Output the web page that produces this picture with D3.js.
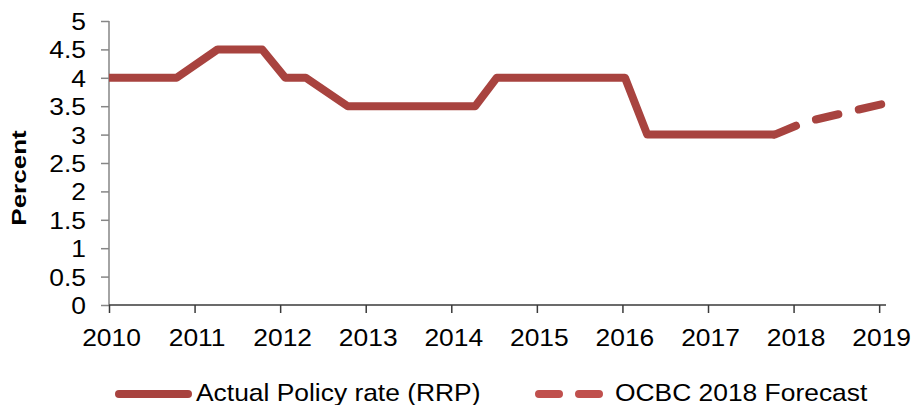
<!DOCTYPE html>
<html>
<head>
<meta charset="utf-8">
<script src="https://cdn.jsdelivr.net/npm/d3@7"></script>
<style>
  body { margin: 0; background: #fff; }
  svg { display: block; font-family: "Liberation Sans", Arial, sans-serif; }
</style>
</head>
<body>
<svg id="chart"></svg>
<script>
// Policy rate data (year as decimal)
const actualYears = [2010, 2010.79, 2011.27, 2011.79, 2012.06, 2012.30, 2012.79, 2014.28, 2014.53, 2016.03, 2016.29, 2017.78];
const actualRates = [4, 4, 4.5, 4.5, 4, 4, 3.5, 3.5, 4, 4, 3, 3];
const forecastYears = [2017.78, 2018.13, 2019.07];
const forecastRates = [3, 3.22, 3.55];
const xTicks = [2010, 2011, 2012, 2013, 2014, 2015, 2016, 2017, 2018, 2019];
const yTicks = [0, 0.5, 1, 1.5, 2, 2.5, 3, 3.5, 4, 4.5, 5];
const seriesNames = ["Actual Policy rate (RRP)", "OCBC 2018 Forecast"];

const width = 913, height = 405;
const lineColor = "#a8433f";
const stretch = 1.1; // text is drawn a bit wide in the original
const fontSize = 24;

const svg = d3.select("#chart")
    .attr("width", width)
    .attr("height", height);

// Scales
const x = d3.scaleLinear().domain([2010, 2019.08]).range([109, 886]);
const y = d3.scaleLinear().domain([0, 5]).range([305, 21]);

// Y axis
const yAxis = svg.append("g")
    .attr("transform", "translate(109,0)")
    .call(d3.axisLeft(y).tickValues(yTicks).tickSize(8).tickFormat(d3.format("")));
yAxis.select(".domain").attr("stroke", "#868686").attr("stroke-width", 1.5).attr("d", "M0," + y(5) + "V" + y(0));
yAxis.selectAll(".tick line").attr("stroke", "#868686").attr("stroke-width", 1.5);
yAxis.selectAll(".tick text")
    .attr("x", 0)
    .attr("transform", "translate(-23,0) scale(" + stretch + ",1)")
    .attr("dy", "0.35em")
    .attr("font-size", fontSize)
    .attr("font-family", "Liberation Sans, Arial, sans-serif")
    .attr("fill", "#000");

// X axis
const xAxis = svg.append("g")
    .attr("transform", "translate(0," + y(0) + ")")
    .call(d3.axisBottom(x).tickValues(xTicks).tickSize(8).tickFormat(d3.format("d")));
xAxis.select(".domain").attr("stroke", "#3a3a3a").attr("stroke-width", 1.5).attr("d", "M109,0H886");
xAxis.selectAll(".tick line").attr("stroke", "#3a3a3a").attr("stroke-width", 1.5);
xAxis.selectAll(".tick text")
    .attr("y", 0).attr("dy", null)
    .attr("transform", "translate(2,41) scale(" + stretch + ",1)")
    .attr("font-size", fontSize)
    .attr("font-family", "Liberation Sans, Arial, sans-serif")
    .attr("fill", "#000");

// Y axis title
svg.append("text")
    .attr("transform", "translate(26,178) rotate(-90) scale(1.3,1)")
    .attr("text-anchor", "middle")
    .attr("font-size", 20)
    .attr("font-weight", "bold")
    .text("Percent");

// Lines
const line = d3.line().x(d => x(d[0])).y(d => y(d[1]));

svg.append("path")
    .datum(d3.zip(actualYears, actualRates))
    .attr("d", line)
    .attr("fill", "none")
    .attr("stroke", lineColor)
    .attr("stroke-width", 8)
    .attr("stroke-linejoin", "round")
    .attr("stroke-linecap", "butt");

svg.append("path")
    .datum(d3.zip(forecastYears, forecastRates))
    .attr("d", line)
    .attr("fill", "none")
    .attr("stroke", lineColor)
    .attr("stroke-width", 8)
    .attr("stroke-dasharray", "23,21")
    .attr("stroke-linejoin", "round")
    .attr("stroke-linecap", "round");

// Legend
const legend = svg.append("g");
legend.append("line")
    .attr("x1", 119).attr("x2", 188).attr("y1", 394).attr("y2", 394)
    .attr("stroke", lineColor).attr("stroke-width", 8).attr("stroke-linecap", "round");
legend.append("text")
    .attr("transform", "translate(196,401) scale(" + stretch + ",1)")
    .attr("font-size", fontSize)
    .text(seriesNames[0]);

legend.append("line")
    .attr("x1", 539).attr("x2", 599).attr("y1", 394).attr("y2", 394)
    .attr("stroke", "#c0504d").attr("stroke-width", 8).attr("stroke-linecap", "round")
    .attr("stroke-dasharray", "20,20");
legend.append("text")
    .attr("transform", "translate(615,401) scale(" + stretch + ",1)")
    .attr("font-size", fontSize)
    .text(seriesNames[1]);
</script>
</body>
</html>
